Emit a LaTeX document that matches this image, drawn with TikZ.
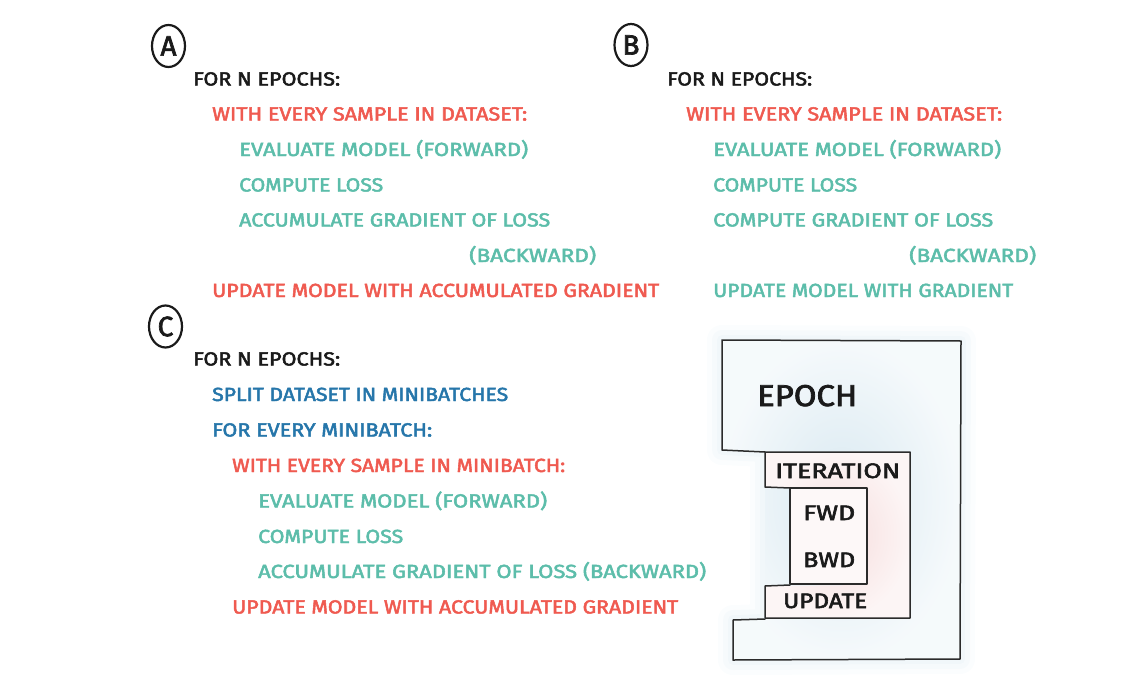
\documentclass[tikz,border=0pt]{standalone}
\usepackage{fontspec}
\usetikzlibrary{shapes.geometric}
\newfontfamily\handfont{Fira Sans}[FakeBold=2.5]

\definecolor{inkblack}{HTML}{1A1A1A}
\definecolor{inkred}{HTML}{EF5A50}
\definecolor{inkteal}{HTML}{5CBDAA}
\definecolor{inkblue}{HTML}{2676AA}
\definecolor{outline}{HTML}{2B2B2B}
\definecolor{hazeblue}{HTML}{D9E9F1}
\definecolor{hazepink}{HTML}{F6DDDD}

% squeeze or stretch a line of text horizontally to a given width (in pt)
\newcommand\fitto[2]{%
  \setbox0\hbox{#2}%
  \pgfmathsetmacro\fitratio{#1/\the\wd0}%
  \scalebox{\fitratio}[1]{\box0}}

\tikzset{
  codeline/.style={anchor=base west, inner sep=0pt,
    font=\handfont\fontsize{19}{19}\selectfont},
  blackline/.style={codeline, text=inkblack},
  redline/.style={codeline, text=inkred},
  tealline/.style={codeline, text=inkteal},
  blueline/.style={codeline, text=inkblue},
  tag/.style={ellipse, draw=inkblack, line width=2.2pt, inner sep=0pt,
    minimum width=33pt, minimum height=42pt, text=inkblack,
    font=\handfont\fontsize{28}{28}\selectfont},
  boxlabel/.style={anchor=base west, inner sep=0pt, text=inkblack,
    font=\handfont\fontsize{21}{21}\selectfont},
  boxline/.style={draw=outline, line width=1.5pt, line join=round, line cap=round},
}

\begin{document}
\begin{tikzpicture}[x=1pt, y=-1pt]
\useasboundingbox (0,0) rectangle (1135,696);

% ---------- A: full-batch gradient accumulation ----------
\node[tag] (tagA) at (168.5,46) {A};
\node[blackline] (a1) at (193,85.5)  {\fitto{147}{FOR N EPOCHS:}};
\node[redline]   (a2) at (212,120.5) {\fitto{315}{WITH EVERY SAMPLE IN DATASET:}};
\node[tealline]  (a3) at (239,156)   {\fitto{289}{EVALUATE MODEL (FORWARD)}};
\node[tealline]  (a4) at (239,191.5) {\fitto{144}{COMPUTE LOSS}};
\node[tealline]  (a5) at (239,226.5) {\fitto{311}{ACCUMULATE GRADIENT OF LOSS}};
\node[tealline]  (a6) at (469,262)   {\fitto{127}{(BACKWARD)}};
\node[redline]   (a7) at (212,297)   {\fitto{447}{UPDATE MODEL WITH ACCUMULATED GRADIENT}};

% ---------- B: per-sample update ----------
\node[tag] (tagB) at (631,45) {B};
\node[blackline] (b1) at (667,85.5)  {\fitto{145}{FOR N EPOCHS:}};
\node[redline]   (b2) at (686,120.5) {\fitto{316}{WITH EVERY SAMPLE IN DATASET:}};
\node[tealline]  (b3) at (713,156)   {\fitto{288}{EVALUATE MODEL (FORWARD)}};
\node[tealline]  (b4) at (713,191.5) {\fitto{144}{COMPUTE LOSS}};
\node[tealline]  (b5) at (713,226.5) {\fitto{280}{COMPUTE GRADIENT OF LOSS}};
\node[tealline]  (b6) at (909,262)   {\fitto{127}{(BACKWARD)}};
\node[tealline]  (b7) at (713,297)   {\fitto{300}{UPDATE MODEL WITH GRADIENT}};

% ---------- C: minibatches ----------
\node[tag] (tagC) at (165.5,326.5) {C};
\node[blackline] (c1) at (193,365.5) {\fitto{147}{FOR N EPOCHS:}};
\node[blueline]  (c2) at (212,401)   {\fitto{296}{SPLIT DATASET IN MINIBATCHES}};
\node[blueline]  (c3) at (212,436.5) {\fitto{220}{FOR EVERY MINIBATCH:}};
\node[redline]   (c4) at (232,472)   {\fitto{333}{WITH EVERY SAMPLE IN MINIBATCH:}};
\node[tealline]  (c5) at (258,507.5) {\fitto{289}{EVALUATE MODEL (FORWARD)}};
\node[tealline]  (c6) at (258,543)   {\fitto{145}{COMPUTE LOSS}};
\node[tealline]  (c7) at (258,578)   {\fitto{448}{ACCUMULATE GRADIENT OF LOSS (BACKWARD)}};
\node[redline]   (c8) at (232,613.5) {\fitto{446}{UPDATE MODEL WITH ACCUMULATED GRADIENT}};

% ---------- nested loop boxes ----------
% soft watercolour halo around the epoch block
\foreach \w/\o in {30/0.10, 20/0.14, 10/0.18}
  \draw[hazeblue, line width=\w pt, opacity=\o, line join=round]
    (722,340) -- (961,341) -- (960,659) -- (733,660) -- (733,620)
    -- (765,619) -- (765,452) -- (722,450) -- cycle;
% epoch area
\shade[inner color=hazeblue, outer color=hazeblue!25]
  (722,340) -- (961,341) -- (960,659) -- (733,660) -- (733,620)
  -- (765,619) -- (765,452) -- (722,450) -- cycle;
% iteration area
\shade[inner color=hazepink, outer color=hazepink!30]
  (765,452) -- (910,452) -- (910,618) -- (765,618) -- (765,586)
  -- (867,585) -- (867,488) -- (765,487) -- cycle;
% forward / backward area
\fill[white!80!hazepink] (790,488) rectangle (867,584);

% epoch outline
\draw[boxline] (765,452) -- (722,450) -- (722,340) -- (961,341)
  -- (960,659) -- (733,660) -- (733,620) -- (765,619);
% iteration outline
\draw[boxline] (790,488) -- (765,487) -- (765,452) -- (910,452)
  -- (910,618) -- (765,618) -- (765,586) -- (790,585);
% forward / backward box
\draw[boxline] (790,488) rectangle (867,584);

\node[boxlabel, font=\handfont\fontsize{30}{30}\selectfont] (epoch) at (757,406) {\fitto{100}{EPOCH}};
\node[boxlabel] (iter) at (775,478) {\fitto{125}{ITERATION}};
\node[boxlabel] (fwd)  at (803,520) {\fitto{52}{FWD}};
\node[boxlabel] (bwd)  at (803,567) {\fitto{52}{BWD}};
\node[boxlabel] (upd)  at (783,608) {\fitto{84}{UPDATE}};
\end{tikzpicture}
\end{document}
